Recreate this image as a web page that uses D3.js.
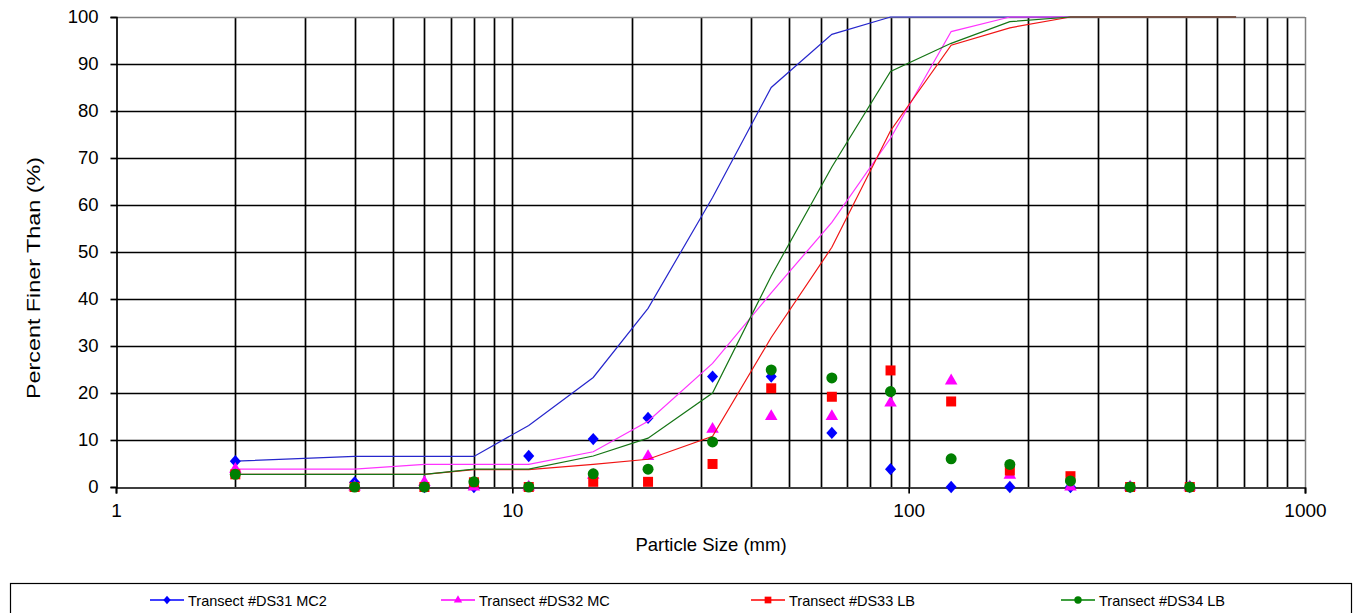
<!DOCTYPE html>
<html>
<head>
<meta charset="utf-8">
<script src="https://cdn.jsdelivr.net/npm/d3@7"></script>
<style>
  html, body { margin: 0; padding: 0; background: #fff; }
  svg { display: block; font-family: "Liberation Sans", Arial, sans-serif; }
</style>
</head>
<body>
<svg id="chart" width="1355" height="613"></svg>
<script>
// Sieve sizes (mm) at which each fraction was measured
const sizes = [2, 4, 6, 8, 11, 16, 22, 32, 45, 64, 90, 128, 180, 256, 362, 512];

// Percent retained in each size class (plotted as loose markers)
const ds31Retained = [5.5, 1, 0, 0, 6.6, 10.2, 14.7, 23.5, 23.5, 11.5, 3.8, 0, 0, 0, 0, 0];
const ds32Retained = [3.8, 0, 1, 0, 0, 2.5, 6.5, 12.3, 15, 15, 17.9, 22.6, 2.5, 0, 0, 0];
const ds33Retained = [2.7, 0, 0, 1, 0, 1.1, 1.1, 4.9, 21, 19.2, 24.8, 18.2, 3.5, 2.3, 0, 0];
const ds34Retained = [2.7, 0, 0, 1.1, 0, 2.8, 3.8, 9.6, 24.9, 23.2, 20.3, 6, 4.8, 1.3, 0, 0];

// Cumulative percent finer curves
const curveSizes = [2, 4, 6, 8, 11, 16, 22, 32, 45, 64, 90, 128, 180, 256, 362, 512, 670];
const ds31Finer = [5.5, 6.5, 6.5, 6.5, 13.1, 23.3, 38, 61.6, 85, 96.3, 100, 100, 100, 100, 100, 100, 100];
const ds32Finer = [3.8, 3.8, 4.8, 4.8, 4.8, 7.5, 14, 26.3, 41.3, 56.3, 74.2, 96.9, 100, 100, 100, 100, 100];
const ds33Finer = [2.7, 2.7, 2.7, 3.7, 3.7, 4.8, 5.9, 10.8, 31.8, 51, 75.8, 94, 97.7, 100, 100, 100, 100];
const ds34Finer = [2.7, 2.7, 2.7, 3.8, 3.8, 6.6, 10.4, 20, 44.9, 68.1, 88.4, 94.4, 99, 100, 100, 100, 100];

const seriesNames = ["Transect #DS31 MC2", "Transect #DS32 MC", "Transect #DS33 LB", "Transect #DS34 LB"];

const xTicks = [1, 10, 100, 1000];
const yTicks = [0, 10, 20, 30, 40, 50, 60, 70, 80, 90, 100];

const xTitle = "Particle Size (mm)";
const yTitle = "Percent Finer Than (%)";

// ---- styling / layout ----
const series = [
  { name: seriesNames[0], retained: ds31Retained, finer: ds31Finer, color: "#0000ff", line: "#2626cc", symbol: d3.symbolDiamond, size: 44, sx: 1.55 },
  { name: seriesNames[1], retained: ds32Retained, finer: ds32Finer, color: "#ff00ff", line: "#ff33ff", symbol: d3.symbolTriangle, size: 68, sx: 1 },
  { name: seriesNames[2], retained: ds33Retained, finer: ds33Finer, color: "#ff0000", line: "#f01414", symbol: d3.symbolSquare, size: 100, sx: 1 },
  { name: seriesNames[3], retained: ds34Retained, finer: ds34Finer, color: "#007f00", line: "#157515", symbol: d3.symbolCircle, size: 95, sx: 1 }
];

const svg = d3.select("#chart");
const plotLeft = 116, plotRight = 1305, plotTop = 17, plotBottom = 487;

const x = d3.scaleLog().domain([1, 1000]).range([plotLeft, plotRight]);
const y = d3.scaleLinear().domain([0, 100]).range([plotBottom, plotTop]);

// Log grid: every integer multiple within each decade
const gridX = [];
for (let e = 0; e < 3; e++) {
  for (let m = 1; m <= 9; m++) gridX.push(m * Math.pow(10, e));
}

const grid = svg.append("g").attr("class", "grid");
grid.selectAll("line.v")
  .data(gridX.filter(v => v > 1))
  .join("line")
  .attr("class", "v")
  .attr("x1", d => Math.round(x(d)) + 0.5).attr("x2", d => Math.round(x(d)) + 0.5)
  .attr("y1", plotTop).attr("y2", plotBottom)
  .attr("stroke", "#000").attr("stroke-width", 1.7);

grid.selectAll("line.h")
  .data(yTicks.filter(v => v > 0 && v < 100))
  .join("line")
  .attr("class", "h")
  .attr("x1", plotLeft).attr("x2", plotRight)
  .attr("y1", d => Math.round(y(d)) + 0.5).attr("y2", d => Math.round(y(d)) + 0.5)
  .attr("stroke", "#000").attr("stroke-width", 1.7);

// plot frame: top and right in grey, axes in black
svg.append("line").attr("x1", plotLeft).attr("x2", plotRight).attr("y1", plotTop + 0.5).attr("y2", plotTop + 0.5)
  .attr("stroke", "#808080").attr("stroke-width", 1.5);
svg.append("line").attr("x1", plotRight + 0.5).attr("x2", plotRight + 0.5).attr("y1", plotTop).attr("y2", plotBottom)
  .attr("stroke", "#808080").attr("stroke-width", 1.5);

// axes
const yg = svg.append("g").attr("transform", `translate(${plotLeft + 0.5},0)`)
  .call(d3.axisLeft(y).tickValues(yTicks).tickSize(6).tickPadding(12).tickFormat(d3.format("d")));
yg.select(".domain").attr("stroke", "#000").attr("stroke-width", 1.7);
yg.selectAll(".tick line").attr("stroke", "#000").attr("stroke-width", 1.7);
yg.selectAll(".tick text").attr("font-size", 18.5).attr("fill", "#000")
  .attr("font-family", "Liberation Sans, Arial, sans-serif");

const xg = svg.append("g").attr("transform", `translate(0,${plotBottom + 0.5})`)
  .call(d3.axisBottom(x).tickValues(xTicks).tickSize(6).tickPadding(10).tickFormat(d3.format("d")));
xg.select(".domain").attr("stroke", "#000").attr("stroke-width", 1.7);
xg.selectAll(".tick line").attr("stroke", "#000").attr("stroke-width", 1.7);
xg.selectAll(".tick text").attr("font-size", 19).attr("fill", "#000")
  .attr("font-family", "Liberation Sans, Arial, sans-serif");

// axis titles
svg.append("text").attr("x", 711).attr("y", 551).attr("text-anchor", "middle")
  .attr("font-size", 18.5).attr("fill", "#000").text(xTitle);
svg.append("text").attr("transform", "translate(40,278) rotate(-90)").attr("text-anchor", "middle")
  .attr("font-size", 19).attr("fill", "#000")
  .attr("textLength", 242).attr("lengthAdjust", "spacingAndGlyphs")
  .text(yTitle);

// series: cumulative line then measured fractions
const lineGen = d3.line().x(d => x(d[0])).y(d => y(d[1]));
series.forEach(s => {
  const g = svg.append("g");
  g.append("path")
    .attr("d", lineGen(curveSizes.map((c, i) => [c, s.finer[i]])))
    .attr("fill", "none").attr("stroke", s.line).attr("stroke-width", 1.2);
  g.selectAll("path.pt")
    .data(sizes.map((c, i) => [c, s.retained[i]]))
    .join("path")
    .attr("class", "pt")
    .attr("transform", d => `translate(${x(d[0])},${y(d[1])}) scale(${s.sx},1)`)
    .attr("d", d3.symbol().type(s.symbol).size(s.size)())
    .attr("fill", s.color);
});

// legend
const legend = svg.append("g");
legend.append("rect").attr("x", 10.5).attr("y", 583.5).attr("width", 1341).attr("height", 40)
  .attr("fill", "#fff").attr("stroke", "#000").attr("stroke-width", 1.2);
const legendX = [150, 441, 751, 1061];
series.forEach((s, i) => {
  const lg = legend.append("g").attr("transform", `translate(${legendX[i]},600)`);
  lg.append("line").attr("x1", 0).attr("x2", 34).attr("y1", 0).attr("y2", 0)
    .attr("stroke", s.color).attr("stroke-width", 1.4);
  lg.append("path").attr("transform", `translate(17,0) scale(${s.sx},1)`)
    .attr("d", d3.symbol().type(s.symbol).size(s.size * 0.45)()).attr("fill", s.color);
  lg.append("text").attr("x", 38).attr("y", 5.5).attr("font-size", 14.5).attr("fill", "#000").text(s.name);
});
</script>
</body>
</html>
